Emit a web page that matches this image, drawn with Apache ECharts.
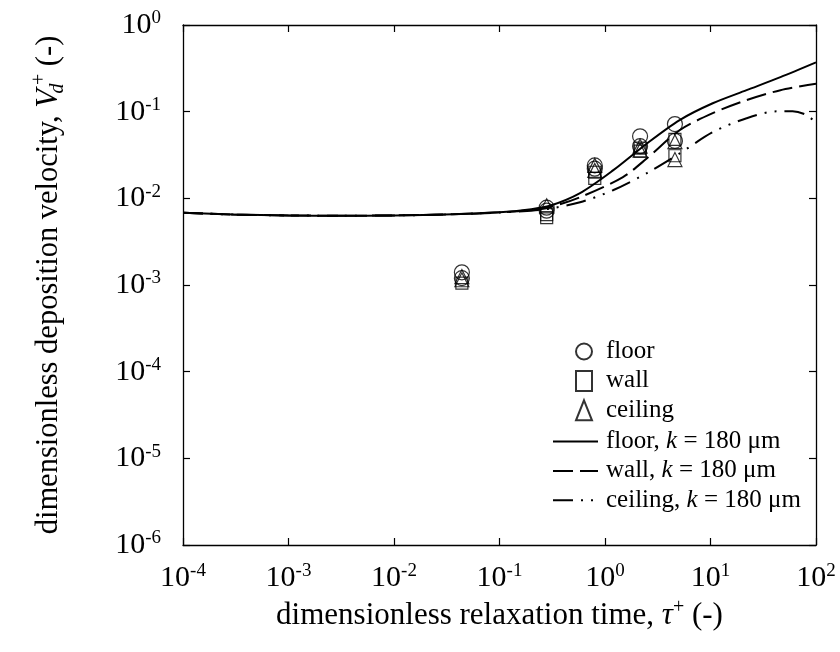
<!DOCTYPE html>
<html>
<head>
<meta charset="utf-8">
<script src="https://cdn.jsdelivr.net/npm/echarts@6/dist/echarts.min.js"></script>
<style>
  html, body { margin: 0; padding: 0; background: #fff; }
  #chart { width: 840px; height: 652px; }
</style>
</head>
<body>
<div id="chart"></div>
<script>
// model curves, k = 180 um
var floorTauC = [1e-4, 3e-4, 1e-3, 3e-3, 0.01, 0.03, 0.1, 0.2, 0.3, 0.58, 1.19, 2.5, 5.1, 10.5, 22, 46, 100]
var floorCurve = [6.8e-3, 6.5e-3, 6.35e-3, 6.3e-3, 6.35e-3, 6.5e-3, 6.9e-3, 7.5e-3, 8.2e-3, 0.0115, 0.021, 0.043, 0.080, 0.125, 0.177, 0.25, 0.37]
var wallTauC = [1e-4, 3e-4, 1e-3, 3e-3, 0.01, 0.03, 0.1, 0.2, 0.3, 0.58, 1.48, 2.5, 5.1, 10.5, 22, 46, 100]
var wallCurve = [6.8e-3, 6.5e-3, 6.35e-3, 6.3e-3, 6.35e-3, 6.5e-3, 6.9e-3, 7.3e-3, 7.9e-3, 0.0103, 0.0176, 0.029, 0.061, 0.096, 0.136, 0.177, 0.21]
var ceilingTauC = [1e-4, 3e-4, 1e-3, 3e-3, 0.01, 0.03, 0.1, 0.2, 0.3, 0.58, 1.19, 2.5, 5.1, 10.5, 22, 43, 60, 82, 100]
var ceilingCurve = [6.8e-3, 6.5e-3, 6.35e-3, 6.3e-3, 6.35e-3, 6.5e-3, 6.85e-3, 7.2e-3, 7.6e-3, 0.009, 0.0124, 0.0196, 0.033, 0.058, 0.084, 0.101, 0.101, 0.091, 0.074]

// measured points
var floorTau = [0.044, 0.044, 0.28, 0.28, 0.8, 0.8, 2.15, 2.15, 4.6, 4.6]
var floorVd = [1.4e-3, 1.2e-3, 7.8e-3, 7.2e-3, 0.024, 0.022, 0.052, 0.040, 0.072, 0.046]
var wallTau = [0.044, 0.28, 0.28, 0.8, 0.8, 2.15, 2.15, 4.6, 4.6]
var wallVd = [1.05e-3, 6.0e-3, 6.5e-3, 0.017, 0.020, 0.035, 0.038, 0.048, 0.031]
var ceilingTau = [0.044, 0.044, 0.28, 0.8, 0.8, 2.15, 2.15, 4.6, 4.6]
var ceilingVd = [1.15e-3, 1.25e-3, 8.2e-3, 0.024, 0.021, 0.040, 0.036, 0.045, 0.028]

var pointNames = ['floor', 'wall', 'ceiling']
var curveNames = ['floor ', 'wall ', 'ceiling ']

var font = 'Liberation Serif'

const zip = (xs, ys) => xs.map((x, i) => [x, ys[i]])

const powLabel = (v) => {
  const e = Math.round(Math.log10(v))
  return `{b|10}{s|${e}}`
}

const tickRich = {
  b: { fontSize: 30, fontFamily: font, color: '#000', lineHeight: 32 },
  s: { fontSize: 19, fontFamily: font, color: '#000', verticalAlign: 'top', lineHeight: 32 },
}

const logAxis = (extra) => Object.assign({
  type: 'log',
  logBase: 10,
  axisLine: { show: true, onZero: false, lineStyle: { color: '#000', width: 1.3 } },
  axisTick: { show: true, inside: true, length: 7, lineStyle: { color: '#000', width: 1.2 } },
  minorTick: { show: false },
  splitLine: { show: false },
}, extra)

const open = { color: 'rgba(0,0,0,0)', borderColor: '#000', borderWidth: 1.2 }

const chart = echarts.init(document.getElementById('chart'))
chart.setOption({
  animation: false,
  backgroundColor: '#fff',
  grid: { left: 183, right: 24, top: 25, bottom: 107 },
  xAxis: [
    logAxis({
      min: 1e-4, max: 100, position: 'bottom',
      axisLabel: { margin: 17, formatter: powLabel, rich: tickRich },
      name: '{n|dimensionless relaxation time, }{t|τ}{p|+}{n| (-)}',
      nameLocation: 'middle',
      nameGap: 49,
      nameTextStyle: {
        rich: {
          n: { fontSize: 31, fontFamily: font, color: '#000', lineHeight: 36 },
          t: { fontSize: 31, fontFamily: font, fontStyle: 'italic', color: '#000', lineHeight: 36 },
          p: { fontSize: 20, fontFamily: font, color: '#000', verticalAlign: 'top', lineHeight: 36 },
        },
      },
    }),
    logAxis({ min: 1e-4, max: 100, position: 'top', axisLabel: { show: false } }),
  ],
  yAxis: [
    logAxis({
      min: 1e-6, max: 1, position: 'left',
      axisLabel: { margin: 22, formatter: powLabel, rich: tickRich },
      name: '{n|dimensionless deposition velocity, }{v|V}{d|d}{p|+}{n| (-)}',
      nameLocation: 'middle',
      nameGap: 115,
      nameTextStyle: {
        rich: {
          n: { fontSize: 30.5, fontFamily: font, color: '#000', lineHeight: 38 },
          v: { fontSize: 30.5, fontFamily: font, fontStyle: 'italic', color: '#000', lineHeight: 38 },
          d: { fontSize: 20, fontFamily: font, fontStyle: 'italic', color: '#000', verticalAlign: 'bottom', lineHeight: 38, width: 1 },
          p: { fontSize: 20, fontFamily: font, color: '#000', verticalAlign: 'top', lineHeight: 38, padding: [0, 0, 0, 3] },
        },
      },
    }),
    logAxis({ min: 1e-6, max: 1, position: 'right', axisLabel: { show: false } }),
  ],
  legend: [
    {
      orient: 'vertical',
      left: 570,
      top: 334,
      itemWidth: 16,
      itemHeight: 20,
      itemGap: 4.4,
      selectedMode: false,
      textStyle: { fontSize: 25, fontFamily: font, color: '#000', lineHeight: 20, padding: [0, 0, 0, 9] },
      data: pointNames,
    },
    {
      orient: 'vertical',
      left: 547,
      top: 424,
      itemWidth: 45,
      itemHeight: 20,
      itemGap: 4.4,
      selectedMode: false,
      itemStyle: { color: 'rgba(0,0,0,0)', borderColor: 'rgba(0,0,0,0)', borderWidth: 0 },
      formatter: (name) => `{n|${name.trim()}, }{i|k}{n| = 180 μm}`,
      textStyle: {
        fontSize: 25, fontFamily: font, color: '#000', lineHeight: 20, padding: [0, 0, 0, 3],
        rich: {
          n: { fontSize: 25, fontFamily: font, color: '#000', lineHeight: 20 },
          i: { fontSize: 25, fontFamily: font, fontStyle: 'italic', color: '#000', lineHeight: 20 },
        },
      },
      data: curveNames,
    },
  ],
  series: [
    {
      name: curveNames[0], type: 'line', data: zip(floorTauC, floorCurve),
      symbol: 'none', smooth: 0.3,
      lineStyle: { color: '#000', width: 2 },
      itemStyle: { color: '#000' },
    },
    {
      name: curveNames[1], type: 'line', data: zip(wallTauC, wallCurve),
      symbol: 'none', smooth: 0.3,
      lineStyle: { color: '#000', width: 2, type: [20, 7] },
      itemStyle: { color: '#000' },
    },
    {
      name: curveNames[2], type: 'line', data: zip(ceilingTauC, ceilingCurve),
      symbol: 'none', smooth: 0.3,
      lineStyle: { color: '#000', width: 2, type: [20, 8, 2, 8, 2, 8] },
      itemStyle: { color: '#000' },
    },
    {
      name: pointNames[0], type: 'scatter', data: zip(floorTau, floorVd),
      symbol: 'circle', symbolSize: 15, itemStyle: open,
    },
    {
      name: pointNames[1], type: 'scatter', data: zip(wallTau, wallVd),
      symbol: 'rect', symbolSize: 12, itemStyle: open,
    },
    {
      name: pointNames[2], type: 'scatter', data: zip(ceilingTau, ceilingVd),
      symbol: 'triangle', symbolSize: 14, itemStyle: open,
    },
  ],
})
</script>
</body>
</html>
